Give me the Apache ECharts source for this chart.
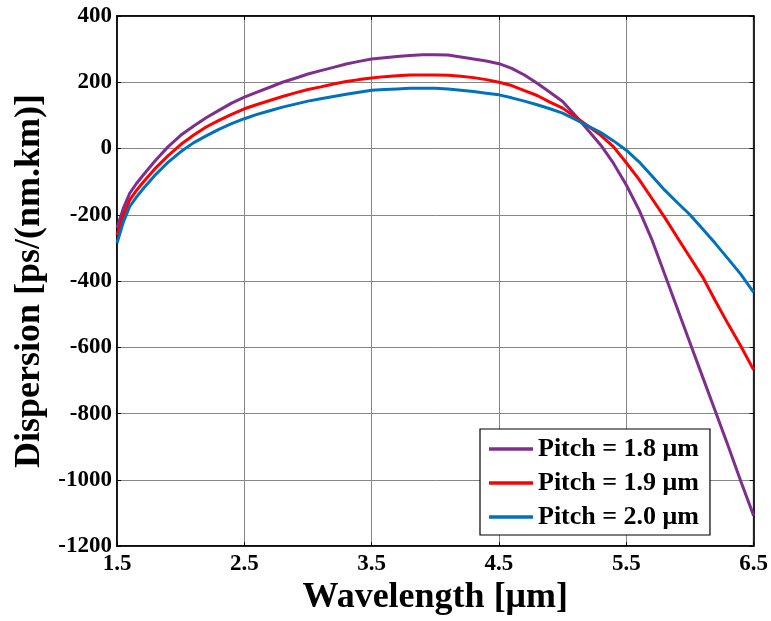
<!DOCTYPE html>
<html><head><meta charset="utf-8">
<script src="https://cdn.jsdelivr.net/npm/echarts@6/dist/echarts.min.js"></script>
<style>html,body{margin:0;padding:0;background:#fff}#c{width:771px;height:621px}</style>
</head><body><div id="c"></div>
<script>
const wavelength = [1.5,1.55,1.6,1.65,1.7,1.8,1.9,2.0,2.1,2.2,2.3,2.4,2.5,2.6,2.7,2.8,2.9,3.0,3.1,3.2,3.3,3.4,3.5,3.6,3.7,3.8,3.9,4.0,4.1,4.2,4.3,4.4,4.5,4.6,4.7,4.8,4.9,5.0,5.1,5.2,5.3,5.4,5.5,5.6,5.7,5.8,5.9,6.0,6.1,6.2,6.3,6.4,6.5];
const pitch18 = [-240,-180,-135,-107,-83,-37,5,40,67,93,115,137,155,170,185,200,212,225,235,245,255,263,270,274,278,281,283,283,282,276,270,264,256,242,222,197,170,142,100,55,10,-45,-110,-185,-274,-378,-482,-586,-690,-794,-898,-1005,-1108];
const pitch19 = [-262,-202,-155,-128,-104,-60,-22,12,40,65,85,103,120,133,145,157,168,178,186,195,202,208,213,217,220,222,222,222,221,218,214,208,200,190,175,160,140,122,95,68,40,5,-43,-93,-150,-207,-268,-328,-388,-460,-530,-597,-668];
const pitch20 = [-285,-222,-175,-148,-124,-80,-42,-10,17,38,58,75,90,103,114,125,134,143,150,157,164,170,176,178,180,182,182,182,180,176,172,167,162,153,143,132,120,107,88,68,48,23,-5,-40,-82,-125,-163,-200,-243,-287,-333,-380,-434];
const seriesNames = ['Pitch = 1.8 μm','Pitch = 1.9 μm','Pitch = 2.0 μm'];
const seriesColors = ['#7E2F8E','#FF0000','#0072BD'];
const seriesData = [pitch18, pitch19, pitch20];

const font = 'Liberation Serif, Times New Roman, serif';
const chart = echarts.init(document.getElementById('c'));
const axisCommon = {
  axisLine:{show:true,onZero:false,lineStyle:{color:'#000',width:1.5}},
  axisTick:{show:true,inside:true,length:4,lineStyle:{color:'#000'}},
};
chart.setOption({
  animation:false,
  backgroundColor:'#fff',
  grid:{left:117,right:16,top:16,bottom:73,show:true,borderColor:'#000',borderWidth:1.5},
  legend:{
    left:480, top:429, orient:'vertical', itemGap:8,
    itemWidth:44, itemHeight:14,
    borderColor:'#000', borderWidth:1.2, padding:[7,11,5,9],
    backgroundColor:'#fff',
    textStyle:{fontFamily:font,fontWeight:'bold',fontSize:26,color:'#000'},
    data:seriesNames.map(n=>({name:n,icon:'path://M0,5.5L44,5.5L44,9L0,9Z'}))
  },
  xAxis:[{
    type:'value', min:1.5, max:6.5, interval:1, position:'bottom',
    ...axisCommon,
    axisLabel:{color:'#000',fontFamily:font,fontWeight:'bold',fontSize:23,margin:6,formatter:v=>v.toFixed(1)},
    splitLine:{show:true,lineStyle:{color:'#868686',width:1}},
    name:'Wavelength [μm]', nameLocation:'middle', nameGap:31,
    nameTextStyle:{color:'#000',fontFamily:font,fontWeight:'bold',fontSize:36}
  },{
    type:'value', min:1.5, max:6.5, interval:1, position:'top',
    ...axisCommon, axisLabel:{show:false}, splitLine:{show:false}
  }],
  yAxis:[{
    type:'value', min:-1200, max:400, interval:200, position:'left',
    ...axisCommon,
    axisLabel:{color:'#000',fontFamily:font,fontWeight:'bold',fontSize:23,margin:5,formatter:v=>String(v)},
    splitLine:{show:true,lineStyle:{color:'#868686',width:1}},
    name:'Dispersion [ps/(nm.km)]', nameLocation:'middle', nameGap:68,
    nameTextStyle:{color:'#000',fontFamily:font,fontWeight:'bold',fontSize:36}
  },{
    type:'value', min:-1200, max:400, interval:200, position:'right',
    ...axisCommon, axisLabel:{show:false}, splitLine:{show:false}
  }],
  series:seriesData.map((d,i)=>({
    name:seriesNames[i], type:'line', showSymbol:false, smooth:false,
    xAxisIndex:0, yAxisIndex:0,
    itemStyle:{color:seriesColors[i]},
    lineStyle:{color:seriesColors[i],width:3},
    data:wavelength.map((x,j)=>[x,d[j]])
  }))
});
</script></body></html>
